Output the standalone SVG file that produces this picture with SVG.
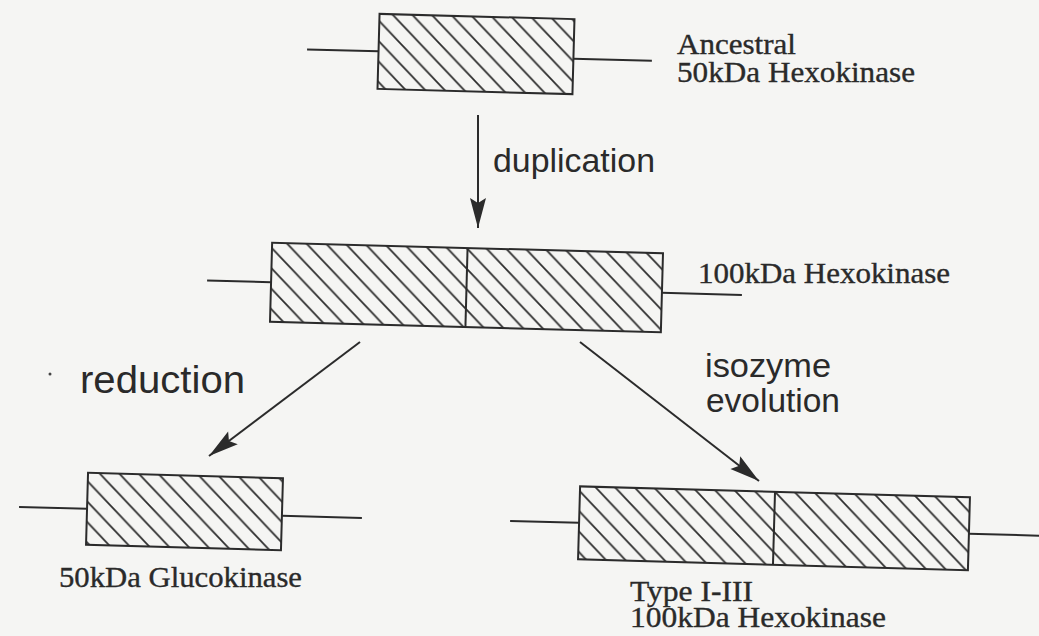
<svg xmlns="http://www.w3.org/2000/svg" width="1039" height="636" viewBox="0 0 1039 636">
  <style>
    .bg { fill: #f5f5f3; }
    .box { stroke: #2b2b2b; stroke-width: 2; }
    .stem { stroke: #2b2b2b; stroke-width: 2; fill: none; }
    .conn { stroke: #2b2b2b; stroke-width: 2; fill: none; }
    .serif { font-family: "Liberation Serif", "Times New Roman", serif; font-size: 29px; fill: #2a2a2a; stroke: #2a2a2a; stroke-width: 0.35; }
    .sans { font-family: "Liberation Sans", Arial, sans-serif; fill: #2a2a2a; }
  </style>
  <defs>
    <!-- diagonal hatch used inside every domain box -->
    <pattern id="hatch" patternUnits="userSpaceOnUse" width="20" height="20">
      <path d="M-5,-5 L25,25 M-5,15 L5,25 M15,-5 L25,5" stroke="#2a2a2a" stroke-width="1.7" fill="none"/>
    </pattern>
    <pattern id="hatch1" href="#hatch" x="14.7"/>
    <pattern id="hatch2" href="#hatch" x="17.5"/>
    <pattern id="hatch3" href="#hatch" x="2.8"/>
    <pattern id="hatch4" href="#hatch" x="2.2"/>
    <marker id="head" markerUnits="userSpaceOnUse" viewBox="-32 -10 34 20" markerWidth="34" markerHeight="20" refX="0" refY="0" orient="auto">
      <path d="M0,0 L-30,-8 L-25,0 L-30,8 Z" fill="#2b2b2b"/>
    </marker>
  </defs>

  <rect class="bg" x="0" y="0" width="1039" height="636"/>

  <!-- ancestral single-domain gene -->
  <g id="ancestral">
    <g transform="rotate(1.55 476 54)">
      <line class="stem" x1="307" y1="54" x2="378.5" y2="54"/>
      <line class="stem" x1="573.5" y1="56" x2="652" y2="56"/>
      <rect class="box" x="378.5" y="16.5" width="195" height="75" fill="url(#hatch1)"/>
    </g>
    <text class="serif" x="677" y="54" textLength="119" lengthAdjust="spacingAndGlyphs">Ancestral</text>
    <text class="serif" x="677" y="82" textLength="238" lengthAdjust="spacingAndGlyphs">50kDa Hexokinase</text>
  </g>

  <!-- duplicated two-domain gene -->
  <g id="hexokinase100">
    <g transform="rotate(1.55 466.5 287.5)">
      <line class="stem" x1="207" y1="287.5" x2="271" y2="287.5"/>
      <line class="stem" x1="662" y1="287.5" x2="742" y2="287.5"/>
      <rect class="box" x="271" y="248" width="391" height="79" fill="url(#hatch2)"/>
      <line class="box" x1="466.5" y1="248" x2="466.5" y2="327"/>
    </g>
    <text class="serif" x="698" y="283" textLength="252" lengthAdjust="spacingAndGlyphs">100kDa Hexokinase</text>
  </g>

  <!-- glucokinase, reduced to one domain -->
  <g id="glucokinase">
    <g transform="rotate(1.6 184.5 511.5)">
      <line class="stem" x1="19" y1="511.5" x2="87" y2="511.5"/>
      <line class="stem" x1="282" y1="513" x2="362" y2="513"/>
      <rect class="box" x="87" y="475.5" width="195" height="72" fill="url(#hatch3)"/>
    </g>
    <text class="serif" x="59" y="587" textLength="243" lengthAdjust="spacingAndGlyphs">50kDa Glucokinase</text>
  </g>

  <!-- type I-III isozymes -->
  <g id="typeI-III">
    <g transform="rotate(1.6 774 528.3)">
      <line class="stem" x1="510" y1="528.3" x2="579" y2="528.3"/>
      <line class="stem" x1="969" y1="528.3" x2="1045" y2="528.3"/>
      <rect class="box" x="579" y="491.8" width="390" height="73" fill="url(#hatch4)"/>
      <line class="box" x1="774" y1="491.8" x2="774" y2="564.8"/>
    </g>
    <text class="serif" x="630" y="601" textLength="123" lengthAdjust="spacingAndGlyphs">Type I-III</text>
    <text class="serif" x="630" y="627" textLength="256" lengthAdjust="spacingAndGlyphs">100kDa Hexokinase</text>
  </g>

  <!-- evolutionary steps -->
  <g id="connectors">
    <path class="conn" d="M478,115 L478,228" marker-end="url(#head)"/>
    <path class="conn" d="M360,342 L209,456" marker-end="url(#head)"/>
    <path class="conn" d="M580,342 L759,481" marker-end="url(#head)"/>
    <text class="sans" x="493" y="172" font-size="34" textLength="162" lengthAdjust="spacingAndGlyphs">duplication</text>
    <text class="sans" x="80" y="393" font-size="38" textLength="165" lengthAdjust="spacingAndGlyphs">reduction</text>
    <text class="sans" x="705" y="377" font-size="34" textLength="126" lengthAdjust="spacingAndGlyphs">isozyme</text>
    <text class="sans" x="706" y="412" font-size="34" textLength="134" lengthAdjust="spacingAndGlyphs">evolution</text>
  </g>

  <circle cx="50" cy="374" r="1.5" fill="#444"/>
</svg>
